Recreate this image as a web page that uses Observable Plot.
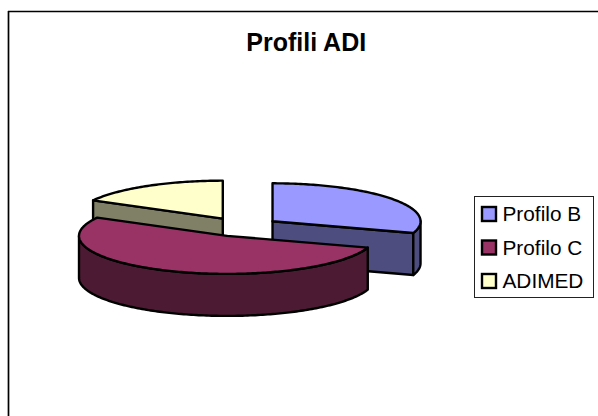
<!DOCTYPE html>
<html>
<head>
<meta charset="utf-8">
<script src="https://cdn.jsdelivr.net/npm/d3@7"></script>
<script src="https://cdn.jsdelivr.net/npm/@observablehq/plot@0.6"></script>
<style>
html,body{margin:0;padding:0;background:#fff;overflow:hidden}
svg{display:block}
</style>
</head>
<body>
<div id="chart"></div>
<script>
const chartTitle = "Profili ADI";
const categories = ["Profilo B", "Profilo C", "ADIMED"];
const values = [30, 53, 17];
const topColors = ["#9999ff", "#993366", "#ffffcc"];
const wallColors = ["#4d4d80", "#4d1a33", "#808066"];

const W = 598, H = 416;
const pie = {cx: 241.5, cy: 226.5, rx: 148, ry: 38, depth: 42, explode: 0.255};
const legend = {x1: 474.5, x2: 593.5, y1: 196.5, y2: 297.5, swatchX: 482, swatch: 14, textX: 502, rows: [214, 247.5, 281]};

const total = d3.sum(values);
const rad = d => d * Math.PI / 180;
let acc = 0;
const slices = categories.map((name, i) => {
  const a0 = acc / total * 360;
  acc += values[i];
  const a1 = acc / total * 360;
  const mid = rad((a0 + a1) / 2);
  return {
    name, i, a0, a1,
    cx: pie.cx + pie.explode * pie.rx * Math.sin(mid),
    cy: pie.cy - pie.explode * pie.ry * Math.cos(mid)
  };
});
const rim = (s, a, dz = 0) => ({
  x: s.cx + pie.rx * Math.sin(rad(a)),
  y: s.cy - pie.ry * Math.cos(rad(a)) + dz
});
const arc = (s, a0, a1, dz = 0) => {
  const n = Math.max(2, Math.ceil(Math.abs(a1 - a0)));
  return d3.range(n + 1).map(k => rim(s, a0 + (a1 - a0) * k / n, dz));
};
const face = (pts, fill) => Plot.line(pts, {
  x: "x", y: "y", fill, stroke: "#000", strokeWidth: 2.4,
  strokeLinejoin: "round", curve: "linear"
});
const close = pts => [...pts, pts[0]];

const marks = [];
marks.push(Plot.ruleX([8], {y1: 11, y2: H, stroke: "#000", strokeWidth: 1.7}));
marks.push(Plot.ruleY([11], {x1: 8, x2: W, stroke: "#000", strokeWidth: 1.7}));

// back-to-front by exploded centre
for (const s of [...slices].sort((p, q) => p.cy - q.cy)) {
  const wall = wallColors[s.i];
  const c = {x: s.cx, y: s.cy};
  const c2 = {x: s.cx, y: s.cy + pie.depth};
  if (s.a1 > 0 && s.a1 < 180) {
    marks.push(face(close([c, rim(s, s.a1), rim(s, s.a1, pie.depth), c2]), wall));
  }
  if (s.a0 > 180 && s.a0 < 360) {
    marks.push(face(close([c, rim(s, s.a0), rim(s, s.a0, pie.depth), c2]), wall));
  }
  const lo = Math.max(s.a0, 90), hi = Math.min(s.a1, 270);
  if (lo < hi) {
    marks.push(face(close([...arc(s, lo, hi), ...arc(s, hi, lo, pie.depth)]), wall));
  }
  marks.push(face(close([c, ...arc(s, s.a0, s.a1)]), topColors[s.i]));
}

// title
marks.push(Plot.text([chartTitle], {
  x: () => 305.7, y: () => 50, text: d => d, fontSize: 25, fontWeight: "bold",
  fontFamily: "Liberation Sans", fill: "#000", textAnchor: "middle", lineAnchor: "bottom"
}));

// legend
const legendRows = categories.map((name, i) => ({name, i, y: legend.rows[i]}));
marks.push(Plot.rect([legend], {
  x1: "x1", x2: "x2", y1: "y1", y2: "y2", fill: "#fff", stroke: "#222", strokeWidth: 1
}));
marks.push(Plot.rect(legendRows, {
  x1: () => legend.swatchX, x2: () => legend.swatchX + legend.swatch,
  y1: d => d.y - legend.swatch / 2, y2: d => d.y + legend.swatch / 2,
  fill: d => topColors[d.i], stroke: "#000", strokeWidth: 2.4
}));
marks.push(Plot.text(legendRows, {
  x: () => legend.textX, y: "y", text: "name", fontSize: 20.8,
  fontFamily: "Liberation Sans", fill: "#000", textAnchor: "start", lineAnchor: "middle"
}));

const plot = Plot.plot({
  width: W, height: H,
  margin: 0,
  style: {background: "#fff"},
  x: {domain: [0, W], range: [0, W], axis: null},
  y: {domain: [0, H], range: [0, H], axis: null},
  marks
});
document.getElementById("chart").append(plot);
</script>
</body>
</html>
